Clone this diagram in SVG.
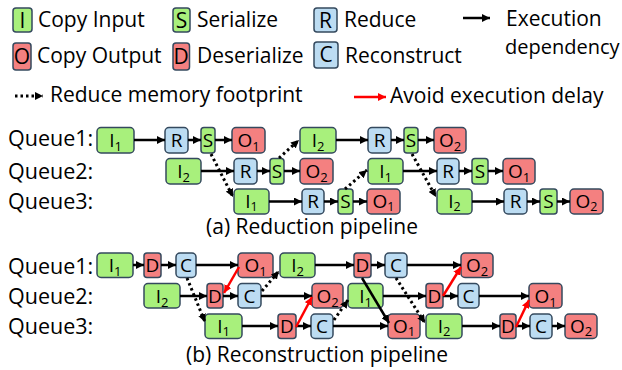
<svg xmlns="http://www.w3.org/2000/svg" width="622" height="370" viewBox="0 0 622 370">
<style>
text{font-family:"Open Sans","Liberation Sans",sans-serif;fill:#000}
.t{font-size:21px}
.q{font-size:21.5px}
.n{font-size:19px;text-anchor:middle}
.ln{font-size:21px;text-anchor:middle}
.g{fill:#a8f07c;stroke:#34495e;stroke-width:1.5}
.r{fill:#f48080;stroke:#34495e;stroke-width:1.5}
.b{fill:#bcdcf2;stroke:#34495e;stroke-width:1.5}
.k{stroke:#000;stroke-width:2.5;fill:none;marker-end:url(#ak)}
.d{stroke:#000;stroke-width:3;stroke-dasharray:2.5 3;fill:none;marker-end:url(#ak)}
.e{stroke:#f00;stroke-width:2.5;fill:none;marker-end:url(#ar)}
</style>
<defs>
<marker id="ak" viewBox="0 0 10 10" refX="10" refY="5" markerWidth="8" markerHeight="8" markerUnits="userSpaceOnUse" orient="auto"><path d="M0,0L10,5L0,10z" fill="#000"/></marker>
<marker id="ar" viewBox="0 0 10 10" refX="10" refY="5" markerWidth="8" markerHeight="8" markerUnits="userSpaceOnUse" orient="auto"><path d="M0,0L10,5L0,10z" fill="#f00"/></marker>
</defs>

<!-- Legend -->
<g id="legend">
<g id="lg-i"><rect class="g" x="13" y="8" width="19" height="24" rx="3"/><text class="ln" x="22.5" y="28">I</text></g>
<text class="t" x="38" y="27">Copy Input</text>
<g id="lg-s"><rect class="g" x="173" y="8" width="17" height="24" rx="3"/><text class="ln" x="181.5" y="28">S</text></g>
<text class="t" x="197" y="27">Serialize</text>
<g id="lg-r"><rect class="b" x="314" y="8" width="23" height="24" rx="3"/><text class="ln" x="325.5" y="28">R</text></g>
<text class="t" x="344" y="27">Reduce</text>
<text class="t" x="506" y="26">Execution</text>
<text x="505" y="54" font-size="20">dependency</text>
<g id="lg-o"><rect class="r" x="13" y="43" width="18" height="27" rx="3"/><text class="ln" x="22" y="64">O</text></g>
<text class="t" x="37" y="63">Copy Output</text>
<g id="lg-d"><rect class="r" x="173" y="43" width="16.5" height="27" rx="3"/><text class="ln" x="181.2" y="64">D</text></g>
<text class="t" x="197" y="63">Deserialize</text>
<g id="lg-c"><rect class="b" x="314" y="42" width="24" height="26" rx="3"/><text class="ln" x="326" y="62">C</text></g>
<text class="t" x="345" y="63">Reconstruct</text>
<text class="t" x="50" y="102">Reduce memory footprint</text>
<text class="t" x="390" y="103">Avoid execution delay</text>
</g>

<!-- Queue labels and captions -->
<g id="labels">
<text class="q" x="8" y="146">Queue1:</text>
<text class="q" x="8" y="179">Queue2:</text>
<text class="q" x="8" y="209">Queue3:</text>
<text class="q" x="8" y="274">Queue1:</text>
<text class="q" x="8" y="304">Queue2:</text>
<text class="q" x="8" y="334">Queue3:</text>
<text class="t" x="312" y="234" text-anchor="middle">(a) Reduction pipeline</text>
<text class="t" x="317" y="362" text-anchor="middle">(b) Reconstruction pipeline</text>
</g>

<!-- (a) nodes -->
<g id="a1-i1"><rect class="g" x="97" y="127.5" width="37" height="25.5" rx="4"/><text class="n" x="115.5" y="147">I<tspan font-size="13" dy="4">1</tspan></text></g>
<g id="a1-r1"><rect class="b" x="165" y="127.5" width="23" height="25.5" rx="4"/><text class="n" x="176.5" y="147">R</text></g>
<g id="a1-s1"><rect class="g" x="201" y="127.5" width="14" height="25.5" rx="3"/><text class="n" x="208" y="147">S</text></g>
<g id="a1-o1"><rect class="r" x="232" y="127.5" width="33" height="25.5" rx="4"/><text class="n" x="248.5" y="147">O<tspan font-size="13" dy="4">1</tspan></text></g>
<g id="a1-i2"><rect class="g" x="300" y="127.5" width="36" height="25.5" rx="4"/><text class="n" x="318" y="147">I<tspan font-size="13" dy="4">2</tspan></text></g>
<g id="a1-r2"><rect class="b" x="368" y="127.5" width="23" height="25.5" rx="4"/><text class="n" x="379.5" y="147">R</text></g>
<g id="a1-s2"><rect class="g" x="404" y="127.5" width="14" height="25.5" rx="3"/><text class="n" x="411" y="147">S</text></g>
<g id="a1-o2"><rect class="r" x="434" y="127.5" width="32" height="25.5" rx="4"/><text class="n" x="450" y="147">O<tspan font-size="13" dy="4">2</tspan></text></g>

<g id="a2-i2"><rect class="g" x="166" y="158.5" width="35" height="25.5" rx="4"/><text class="n" x="183.5" y="178">I<tspan font-size="13" dy="4">2</tspan></text></g>
<g id="a2-r2"><rect class="b" x="234" y="158.5" width="23" height="25.5" rx="4"/><text class="n" x="245.5" y="178">R</text></g>
<g id="a2-s2"><rect class="g" x="270" y="158.5" width="14" height="25.5" rx="3"/><text class="n" x="277" y="178">S</text></g>
<g id="a2-o2"><rect class="r" x="300" y="158.5" width="33" height="25.5" rx="4"/><text class="n" x="316.5" y="178">O<tspan font-size="13" dy="4">2</tspan></text></g>
<g id="a2-i1"><rect class="g" x="368" y="158.5" width="35" height="25.5" rx="4"/><text class="n" x="385.5" y="178">I<tspan font-size="13" dy="4">1</tspan></text></g>
<g id="a2-r1"><rect class="b" x="437" y="158.5" width="22" height="25.5" rx="4"/><text class="n" x="448" y="178">R</text></g>
<g id="a2-s1"><rect class="g" x="472" y="158.5" width="16" height="25.5" rx="3"/><text class="n" x="480" y="178">S</text></g>
<g id="a2-o1"><rect class="r" x="503" y="158.5" width="32" height="25.5" rx="4"/><text class="n" x="519" y="178">O<tspan font-size="13" dy="4">1</tspan></text></g>

<g id="a3-i1"><rect class="g" x="234" y="189" width="35" height="25" rx="4"/><text class="n" x="251.5" y="207.5">I<tspan font-size="12.5" dy="3">1</tspan></text></g>
<g id="a3-r1"><rect class="b" x="302" y="189" width="22" height="25" rx="4"/><text class="n" x="313" y="207.5">R</text></g>
<g id="a3-s1"><rect class="g" x="338" y="189" width="15" height="25" rx="3"/><text class="n" x="345.5" y="207.5">S</text></g>
<g id="a3-o1"><rect class="r" x="367" y="189" width="33" height="25" rx="4"/><text class="n" x="383.5" y="207.5">O<tspan font-size="12.5" dy="3">1</tspan></text></g>
<g id="a3-i2"><rect class="g" x="437" y="189" width="35" height="25" rx="4"/><text class="n" x="454.5" y="207.5">I<tspan font-size="12.5" dy="3">2</tspan></text></g>
<g id="a3-r2"><rect class="b" x="504" y="189" width="23" height="25" rx="4"/><text class="n" x="515.5" y="207.5">R</text></g>
<g id="a3-s2"><rect class="g" x="540" y="189" width="17" height="25" rx="3"/><text class="n" x="548.5" y="207.5">S</text></g>
<g id="a3-o2"><rect class="r" x="570" y="189" width="33" height="25" rx="4"/><text class="n" x="586.5" y="207.5">O<tspan font-size="12.5" dy="3">2</tspan></text></g>

<!-- (b) nodes -->
<g id="b1-i1"><rect class="g" x="97" y="253" width="36" height="24.5" rx="4"/><text class="n" x="115" y="272">I<tspan font-size="13" dy="4">1</tspan></text></g>
<g id="b1-d1"><rect class="r" x="144" y="253" width="17" height="24.5" rx="3"/><text class="n" x="152.5" y="272">D</text></g>
<g id="b1-c1"><rect class="b" x="176" y="253" width="20" height="24.5" rx="4"/><text class="n" x="186" y="272">C</text></g>
<g id="b1-o1"><rect class="r" x="238" y="253" width="35" height="24.5" rx="4"/><text class="n" x="255.5" y="272">O<tspan font-size="13" dy="4">1</tspan></text></g>
<g id="b1-i2"><rect class="g" x="280" y="253" width="35" height="24.5" rx="4"/><text class="n" x="297.5" y="272">I<tspan font-size="13" dy="4">2</tspan></text></g>
<g id="b1-d2"><rect class="r" x="354" y="253" width="17" height="24.5" rx="3"/><text class="n" x="362.5" y="272">D</text></g>
<g id="b1-c2"><rect class="b" x="385" y="253" width="22" height="24.5" rx="4"/><text class="n" x="396" y="272">C</text></g>
<g id="b1-o2"><rect class="r" x="461" y="253" width="32" height="24.5" rx="4"/><text class="n" x="477" y="272">O<tspan font-size="13" dy="4">2</tspan></text></g>

<g id="b2-i2"><rect class="g" x="144" y="283.5" width="36" height="24.5" rx="4"/><text class="n" x="162" y="302.5">I<tspan font-size="13" dy="4">2</tspan></text></g>
<g id="b2-d2"><rect class="r" x="207" y="283.5" width="16" height="24.5" rx="3"/><text class="n" x="215" y="302.5">D</text></g>
<g id="b2-c2"><rect class="b" x="238" y="283.5" width="23" height="24.5" rx="4"/><text class="n" x="249.5" y="302.5">C</text></g>
<g id="b2-o2"><rect class="r" x="312" y="283.5" width="31" height="24.5" rx="4"/><text class="n" x="327.5" y="302.5">O<tspan font-size="13" dy="4">2</tspan></text></g>
<g id="b2-i1"><rect class="g" x="348" y="283.5" width="35" height="24.5" rx="4"/><text class="n" x="365.5" y="302.5">I<tspan font-size="13" dy="4">1</tspan></text></g>
<g id="b2-d1"><rect class="r" x="426" y="283.5" width="17" height="24.5" rx="3"/><text class="n" x="434.5" y="302.5">D</text></g>
<g id="b2-c1"><rect class="b" x="458" y="283.5" width="21" height="24.5" rx="4"/><text class="n" x="468.5" y="302.5">C</text></g>
<g id="b2-o1"><rect class="r" x="529" y="283.5" width="33" height="24.5" rx="4"/><text class="n" x="545.5" y="302.5">O<tspan font-size="13" dy="4">1</tspan></text></g>

<g id="b3-i1"><rect class="g" x="205" y="314" width="37" height="24.5" rx="4"/><text class="n" x="223.5" y="332.5">I<tspan font-size="13" dy="3.5">1</tspan></text></g>
<g id="b3-d1"><rect class="r" x="278" y="314" width="18" height="24.5" rx="3"/><text class="n" x="287" y="332.5">D</text></g>
<g id="b3-c1"><rect class="b" x="311" y="314" width="22" height="24.5" rx="4"/><text class="n" x="322" y="332.5">C</text></g>
<g id="b3-o1"><rect class="r" x="388" y="314" width="32" height="24.5" rx="4"/><text class="n" x="404" y="332.5">O<tspan font-size="13" dy="3.5">1</tspan></text></g>
<g id="b3-i2"><rect class="g" x="426" y="314" width="36" height="24.5" rx="4"/><text class="n" x="444" y="332.5">I<tspan font-size="13" dy="3.5">2</tspan></text></g>
<g id="b3-d2"><rect class="r" x="500" y="314" width="16" height="24.5" rx="3"/><text class="n" x="508" y="332.5">D</text></g>
<g id="b3-c2"><rect class="b" x="530" y="314" width="22" height="24.5" rx="4"/><text class="n" x="541" y="332.5">C</text></g>
<g id="b3-o2"><rect class="r" x="565" y="314" width="32" height="24.5" rx="4"/><text class="n" x="581" y="332.5">O<tspan font-size="13" dy="3.5">2</tspan></text></g>

<!-- Connectors -->
<g id="connectors">
<path class="k" d="M463,18H490"/>
<path class="d" d="M15,96H43"/>
<path class="e" d="M354,97H386"/>

<path class="k" d="M134,140H165"/><path class="k" d="M188,140H201"/><path class="k" d="M215,140H232"/>
<path class="k" d="M336,140H368"/><path class="k" d="M391,140H404"/><path class="k" d="M418,140H434"/>
<path class="k" d="M201,171H234"/><path class="k" d="M257,171H270"/><path class="k" d="M284,171H300"/>
<path class="k" d="M403,171H437"/><path class="k" d="M459,171H472"/><path class="k" d="M488,171H503"/>
<path class="k" d="M269,201.5H302"/><path class="k" d="M324,201.5H338"/><path class="k" d="M353,201.5H367"/>
<path class="k" d="M472,201.5H504"/><path class="k" d="M527,201.5H540"/><path class="k" d="M557,201.5H570"/>
<path class="d" d="M211,154L233,197"/>
<path class="d" d="M279,158L299,140"/>
<path class="d" d="M345,189L367,170"/>
<path class="d" d="M412,154L436,197"/>

<path class="k" d="M133,265H144"/><path class="k" d="M161,265H176"/><path class="k" d="M196,265H238"/>
<path class="k" d="M315,265H354"/><path class="k" d="M371,265H385"/><path class="k" d="M407,265H461"/>
<path class="k" d="M180,296H207"/><path class="k" d="M223,296H238"/><path class="k" d="M261,296H312"/>
<path class="k" d="M383,296H426"/><path class="k" d="M443,296H458"/><path class="k" d="M479,296H529"/>
<path class="k" d="M242,326H278"/><path class="k" d="M296,326H311"/><path class="k" d="M333,326H388"/>
<path class="k" d="M462,326H500"/><path class="k" d="M516,326H530"/><path class="k" d="M552,326H565"/>
<path class="k" d="M362,278L389,323"/>
<path class="e" d="M239,267L224,293"/>
<path class="e" d="M296,327L312,297"/>
<path class="e" d="M443,296L461,267"/>
<path class="e" d="M516,327L529,300"/>
<path class="d" d="M187,278L205,322"/>
<path class="d" d="M262,291L279,271"/>
<path class="d" d="M334,320L348,300"/>
<path class="d" d="M396,278L425,323"/>
</g>
</svg>
